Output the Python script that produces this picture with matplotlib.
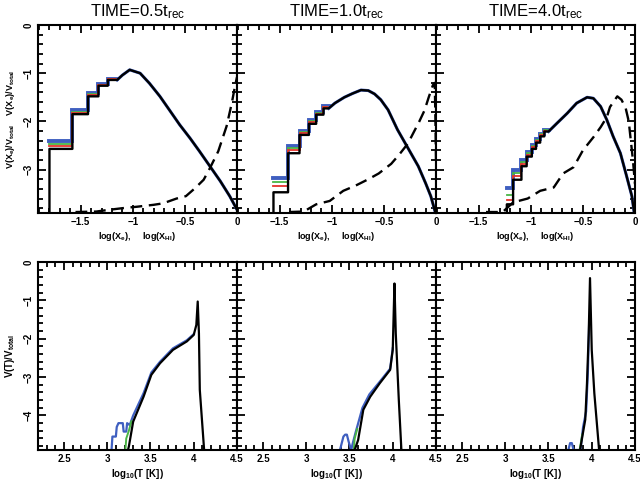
import matplotlib
matplotlib.use("Agg")
import matplotlib.pyplot as plt
from matplotlib.ticker import MultipleLocator, FuncFormatter

plt.rcParams['font.family'] = ['Liberation Sans', 'DejaVu Sans']
plt.rcParams['mathtext.default'] = 'regular'

BLUE = '#3f5fc0'
GREEN = '#49b544'
RED = '#e5322b'

titles = ["TIME=0.5t$_{rec}$", "TIME=1.0t$_{rec}$", "TIME=4.0t$_{rec}$"]

# ---- top row: volume fraction vs ionisation fraction ----
# histogram bin edges (log X_e) and the step values for each colour
edges = [
    [-1.80, -1.58, -1.43, -1.33, -1.24, -1.15],
    [-1.56, -1.42, -1.31, -1.22, -1.15, -1.08, -1.03],
    [-1.23, -1.17, -1.09, -1.04, -0.99, -0.95, -0.91, -0.87, -0.83],
]
black_steps = [
    [-2.57, -1.85, -1.48, -1.26, -1.14],
    [-3.47, -2.66, -2.28, -2.05, -1.86, -1.73],
    [-3.72, -3.21, -2.93, -2.73, -2.57, -2.44, -2.31, -2.21],
]
red_steps = [
    [-2.51, -1.82, -1.46, -1.25, -1.13],
    [-3.35, -2.60, -2.24, -2.02, -1.84, -1.71],
    [-3.64, -3.14, -2.88, -2.69, -2.54, -2.41, -2.29, -2.19],
]
green_steps = [
    [-2.46, -1.80, -1.44, -1.24, -1.12],
    [-3.25, -2.55, -2.21, -2.00, -1.83, -1.70],
    [-3.52, -3.07, -2.84, -2.66, -2.51, -2.39, -2.27, -2.18],
]
blue_steps = [
    [-2.41, -1.77, -1.42, -1.22, -1.11],
    [-3.17, -2.50, -2.19, -1.98, -1.81, -1.68],
    [-3.38, -3.00, -2.80, -2.63, -2.48, -2.37, -2.26, -2.17],
]
# smooth continuation of the X_e curve after the last bin
xe_x = [
    [-1.15, -1.10, -1.03, -0.93, -0.84, -0.74, -0.64, -0.55, -0.45, -0.36, -0.26, -0.16, -0.07, 0.0],
    [-1.03, -0.97, -0.88, -0.80, -0.72, -0.65, -0.59, -0.53, -0.46, -0.37, -0.27, -0.17, -0.10, -0.05, -0.01],
    [-0.83, -0.75, -0.65, -0.56, -0.46, -0.40, -0.33, -0.27, -0.21, -0.14, -0.08, -0.03, -0.01],
]
xe_y = [
    [-1.14, -1.04, -0.93, -1.00, -1.21, -1.48, -1.79, -2.07, -2.35, -2.62, -2.93, -3.24, -3.55, -3.83],
    [-1.73, -1.62, -1.50, -1.42, -1.35, -1.36, -1.43, -1.55, -1.76, -2.17, -2.55, -2.93, -3.28, -3.55, -3.86],
    [-2.21, -2.04, -1.83, -1.62, -1.50, -1.52, -1.69, -1.97, -2.31, -2.66, -3.14, -3.55, -3.86],
]
# X_HI curve (dashed)
xhi_x = [
    [-1.55, -1.35, -1.25, -1.10, -0.96, -0.80, -0.71, -0.58, -0.49, -0.40, -0.32, -0.26, -0.18, -0.10, -0.05, -0.02, 0.0],
    [-1.41, -1.27, -1.15, -1.02, -0.89, -0.77, -0.65, -0.55, -0.43, -0.35, -0.27, -0.22, -0.16, -0.11, -0.07, -0.03, -0.012, -0.005, 0.0],
    [-1.43, -1.27, -1.17, -1.03, -0.91, -0.78, -0.69, -0.59, -0.50, -0.40, -0.33, -0.27, -0.24, -0.17, -0.13, -0.09, -0.06, -0.04, -0.02, 0.0],
]
xhi_y = [
    [-3.88, -3.87, -3.84, -3.80, -3.77, -3.73, -3.70, -3.60, -3.55, -3.38, -3.21, -2.97, -2.62, -2.10, -1.62, -1.28, -1.08],
    [-3.88, -3.87, -3.72, -3.65, -3.44, -3.33, -3.20, -3.08, -2.88, -2.68, -2.46, -2.25, -2.00, -1.77, -1.50, -1.25, -1.20, -2.0, -2.8],
    [-3.88, -3.88, -3.68, -3.60, -3.44, -3.37, -3.08, -2.95, -2.60, -2.33, -2.12, -1.91, -1.70, -1.48, -1.55, -1.72, -2.00, -2.40, -2.80, -3.30],
]

# ---- bottom row: volume fraction vs temperature ----
t_black_x = [
    [3.24, 3.25, 3.30, 3.42, 3.51, 3.61, 3.76, 3.92, 4.00, 4.03, 4.046, 4.06, 4.07, 4.12],
    [3.56, 3.60, 3.66, 3.74, 3.85, 3.97, 4.00, 4.01, 4.02, 4.035, 4.07, 4.10],
    [3.865, 3.895, 3.925, 3.945, 3.965, 3.98, 4.00, 4.03, 4.085],
]
t_black_y = [
    [-4.90, -4.81, -4.16, -3.51, -2.94, -2.64, -2.29, -2.07, -1.90, -1.64, -1.03, -1.86, -3.33, -4.90],
    [-4.90, -4.64, -3.85, -3.51, -3.16, -2.81, -2.29, -1.42, -0.56, -1.86, -3.59, -4.90],
    [-4.90, -4.50, -4.11, -3.16, -1.86, -0.42, -2.29, -3.42, -4.90],
]
t_blue_x = [
    [3.05, 3.06, 3.10, 3.11, 3.13, 3.18, 3.19, 3.22, 3.23, 3.26, 3.30, 3.42, 3.51, 3.61, 3.76, 3.92, 4.00],
    [3.39, 3.43, 3.45, 3.47, 3.49, 3.52, 3.535, 3.57, 3.65, 3.73, 3.85, 3.97, 4.00],
    [3.73, 3.75, 3.77, 3.79, 3.87, 3.90, 3.935, 3.955, 3.97],
]
t_blue_y = [
    [-4.90, -4.55, -4.55, -4.30, -4.20, -4.20, -4.42, -4.42, -4.20, -4.25, -4.00, -3.42, -2.88, -2.60, -2.25, -2.04, -1.88],
    [-4.90, -4.55, -4.50, -4.50, -4.68, -4.90, -4.75, -4.45, -3.80, -3.45, -3.12, -2.78, -2.25],
    [-4.90, -4.72, -4.72, -4.90, -4.90, -4.30, -3.90, -2.90, -1.60],
]
t_green_x = [
    [3.21, 3.22, 3.25, 3.28],
    [3.55, 3.56, 3.59],
    [3.86, 3.875, 3.89],
]
t_green_y = [
    [-4.90, -4.60, -4.40, -4.15],
    [-4.90, -4.60, -4.35],
    [-4.90, -4.70, -4.50],
]


def stair(e, v):
    xs, ys = [], []
    for i in range(len(v)):
        xs += [e[i], e[i + 1]]
        ys += [v[i], v[i]]
    return xs, ys


def style(ax, ylim, left):
    for s in ax.spines.values():
        s.set_linewidth(1.5)
    ax.tick_params(which='both', direction='in', top=True, right=True,
                   width=1.3, labelsize=7, pad=3)
    ax.tick_params(which='major', length=6)
    ax.tick_params(which='minor', length=3.5)
    ax.xaxis.set_major_locator(MultipleLocator(0.5))
    ax.xaxis.set_minor_locator(MultipleLocator(0.1))
    ax.yaxis.set_major_locator(MultipleLocator(1))
    ax.yaxis.set_minor_locator(MultipleLocator(0.2))
    fmt = FuncFormatter(lambda v, p: ("%g" % (v + 0.0)).replace("-", "\u2212"))
    ax.xaxis.set_major_formatter(fmt)
    ax.yaxis.set_major_formatter(fmt)
    ax.set_ylim(*ylim)
    for lab in ax.get_xticklabels() + ax.get_yticklabels():
        lab.set_fontweight('bold')
    if left:
        for lab in ax.get_yticklabels():
            lab.set_rotation(90)
            lab.set_va('center')
    else:
        ax.set_yticklabels([])


def main():
    fig = plt.figure(figsize=(6.4, 4.87), dpi=100)
    x0 = 38 / 640
    w = 199 / 640
    h = 188 / 487
    top_axes = [fig.add_axes([x0 + i * w, 1 - 213 / 487, w, h]) for i in range(3)]
    bot_axes = [fig.add_axes([x0 + i * w, 1 - 450 / 487, w, h]) for i in range(3)]

    for i, ax in enumerate(top_axes):
        ylo = -3.9
        for vals, col, lw in [(blue_steps[i], BLUE, 2.8), (green_steps[i], GREEN, 1.3),
                              (red_steps[i], RED, 1.3)]:
            sx, sy = stair(edges[i], vals)
            ax.plot(sx, sy, color=col, lw=lw, solid_joinstyle='miter')
        ax.plot(xe_x[i], xe_y[i], color=BLUE, lw=2.2)
        sx, sy = stair(edges[i], black_steps[i])
        ax.plot([edges[i][0]] + sx + xe_x[i], [ylo] + sy + xe_y[i], color='black', lw=1.7)
        ax.plot(xhi_x[i], xhi_y[i], color='black', lw=1.7, dashes=(5, 2.8))
        ax.set_xlim(-1.91, 0)
        ax.set_title(titles[i], fontsize=12, pad=6)
        ax.set_xlabel("log(X$_e$),     log(X$_{HI}$)", fontsize=6.5, fontweight='bold', labelpad=2)
        style(ax, (ylo, 0), i == 0)
    top_axes[0].set_ylabel("V(X$_e$)/V$_{total}$    V(X$_e$)/V$_{total}$",
                           fontsize=6.5, fontweight='bold', labelpad=5)

    for i, ax in enumerate(bot_axes):
        ax.plot(t_blue_x[i], t_blue_y[i], color=BLUE, lw=1.6)
        ax.plot(t_green_x[i], t_green_y[i], color=GREEN, lw=1.4)
        ax.plot(t_black_x[i], t_black_y[i], color='black', lw=1.6)
        ax.set_xlim(2.2, 4.5)
        ax.set_xlabel("log$_{10}$(T [K])", fontsize=7, fontweight='bold', labelpad=2)
        style(ax, (-4.9, 0), i == 0)
    bot_axes[0].set_ylabel("V(T)/V$_{total}$", fontsize=7, fontweight='bold', labelpad=5)

    fig.savefig("out.png", dpi=100)


if __name__ == "__main__":
    main()
